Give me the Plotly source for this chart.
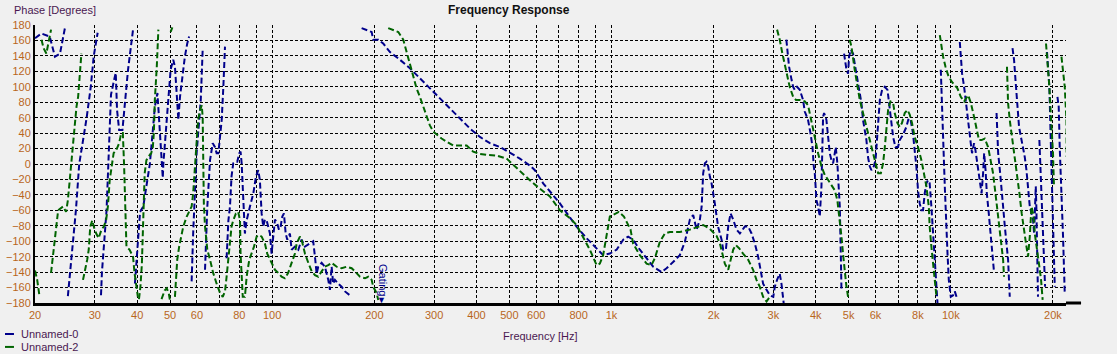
import plotly.graph_objects as go

# ---------------- data (frequency Hz, phase degrees) ----------------
blue_01 = [(20, 163), (20.9, 169), (22.1, 165), (22.9, 139), (23.7, 143), (24.2, 165), (24.5, 176)]
blue_02 = [(25.0, -171), (25.4, -140), (26.4, -60), (27.0, 0), (28.4, 60), (29.2, 100), (29.8, 140), (30.6, 170)]
blue_03 = [(31.3, -170), (31.5, -140), (32.0, -100), (32.5, -60), (32.9, 0), (33.5, 90), (34.3, 111), (34.6, 118),
           (34.9, 70), (35.4, 44), (36.2, 44), (37.6, 122), (38.9, 174)]
blue_04 = [(39.4, -155), (39.9, -120), (40.8, -62), (41.7, -55), (42.7, -25), (43.6, 0), (44.5, 44), (45.1, 74),
           (45.9, 92), (46.2, 70), (46.7, 44), (47.2, 5), (47.6, -18), (47.8, 1), (48.6, 40), (49.4, 79), (50.2, 122),
           (51.1, 135), (51.7, 126), (52.3, 92), (52.9, 57), (53.5, 87), (54.3, 113), (55.3, 139), (56.2, 156), (56.9, 165)]
blue_05 = [(57.9, -152), (58.5, -90), (59.9, 14), (61.0, 66), (61.6, 83), (62.4, 148)]
blue_06 = [(63.4, -137), (64.4, -55), (65.6, 5), (66.8, 27), (67.8, 22), (68.6, 14), (69.4, 14), (70.2, 35),
           (71.0, 57), (71.8, 100), (72.6, 152)]
blue_07 = [(73.4, -122), (74.3, -73), (75.1, -55), (75.9, -16), (76.8, 1), (77.7, 3), (78.9, 3), (80.0, 14),
           (80.7, 16), (81.3, 1), (83.1, -90), (84.1, -73), (86.0, -55), (88.0, -38), (89.6, -16), (91.0, -8),
           (92.0, -21), (93.1, -64), (94.1, -81), (95.2, -72), (96.3, -73), (98.5, -90), (99.6, -116), (100.7, -94),
           (101.9, -72), (103.5, -77), (104.7, -85), (105.9, -81), (107.1, -68), (108.3, -64), (109.6, -90),
           (110.8, -98), (112.8, -90), (114.1, -111), (116.7, -107), (119.4, -111), (122.1, -98), (124.9, -107),
           (129.2, -103), (132.1, -100), (133.7, -120), (135.2, -142), (136.7, -133), (139.9, -128), (143.0, -133),
           (146.3, -150), (148.0, -163), (149.7, -133), (151.3, -155), (153.1, -150), (156.6, -155), (160.2, -159),
           (163.9, -165), (169.5, -170)]
blue_08 = [(183.5, 176), (187.7, 174), (196.4, 171), (198.5, 161), (205.4, 161), (212.5, 156), (222.4, 145),
           (238, 135), (254.7, 124), (272.5, 111), (291.6, 98), (312.1, 85), (334, 72), (357.5, 59), (382.6, 46),
           (409.5, 35), (438.2, 27), (468.9, 22), (501.8, 15), (537, 7), (574.7, -2), (594.6, -8), (629, -25),
           (666, -38), (704.6, -51), (745, -66), (789, -81), (844, -96), (904, -109), (945, -118), (989, -116),
           (1035, -111), (1083, -98), (1120, -94), (1158, -98), (1212, -111), (1269, -122), (1327, -133),
           (1405, -140), (1453, -135), (1519, -127), (1590, -118), (1645, -101), (1702, -72), (1741, -66),
           (1782, -85), (1822, -72), (1844, -55), (1863, -12), (1885, 1), (1906, 3), (1927, -3), (1949, -16),
           (1972, -25), (2016, -51), (2061, -81), (2111, -98), (2134, -111), (2173, -111), (2208, -81), (2243, -64),
           (2284, -72), (2336, -85), (2390, -90), (2472, -81), (2529, -81), (2587, -90), (2646, -103), (2705, -120),
           (2751, -137), (2798, -155), (2864, -163), (2928, -170), (2998, -172), (3029, -159), (3076, -150),
           (3132, -142), (3169, -155), (3217, -180)]
blue_09 = [(3276, 161), (3290, 152), (3337, 126), (3394, 109), (3430, 100), (3468, 96), (3522, 100), (3589, 96),
           (3669, 83), (3712, 68), (3796, 57), (3859, 40), (3912, 22), (3946, -3), (3973, -12), (4019, -47),
           (4063, -55), (4110, -68), (4157, -29), (4203, 61), (4232, 66), (4300, 57), (4347, 35), (4398, 14),
           (4449, 5), (4499, 1), (4550, 14), (4581, 22), (4631, 1), (4650, -16), (4708, -55), (4740, -116), (4762, -163)]
blue_10 = [(4846, 143), (4926, 122), (4980, 117), (5014, 139), (5072, 148), (5152, 143), (5210, 130), (5270, 117),
           (5328, 100), (5452, 79), (5512, 57), (5576, 44), (5640, 31), (5702, 9), (5768, -3), (5835, -8),
           (5931, -3), (6000, 5), (6041, 22), (6107, 53), (6178, 83), (6274, 96), (6390, 100), (6508, 96),
           (6580, 79), (6688, 57), (6762, 35), (6867, 22), (6990, 22), (7071, 31), (7230, 38), (7397, 48),
           (7512, 59), (7614, 57), (7735, 40), (7824, 18), (7915, -3), (8005, -34), (8098, -51), (8192, -60),
           (8283, -60), (8377, -38), (8474, -25), (8567, -21), (8664, -25), (8765, -55), (8861, -94), (8970, -124),
           (9073, -159), (9135, -180)]
blue_11 = [(9344, 122), (9390, 100), (9491, 35), (9600, -29), (9667, -73), (9779, -116), (9865, -150),
           (10000, -172), (10157, -170), (10275, -165), (10394, -172)]
blue_12 = [(10629, 158), (10700, 143), (10797, 117), (10945, 100), (11049, 83), (11200, 66), (11320, 48),
           (11450, 27), (11550, 14), (11710, 27), (11820, 18), (11980, 1), (12170, -21), (12320, -38), (12450, -12),
           (12540, 14), (12660, -8), (12770, -38), (12940, -64), (13090, -90), (13230, -107), (13390, -137)]
blue_13 = [(13640, 66), (13790, 14), (13950, -8), (14110, -29), (14260, -55), (14430, -81), (14750, -124), (14920, -172)]
blue_14 = [(15200, 150), (15360, 135), (15510, 109), (15720, 74), (15890, 48), (16160, 31), (16330, 22), (16520, 9),
           (16710, -8), (16890, -29), (17090, -55), (17290, -64), (17480, -73), (17600, -90), (17800, -29),
           (17870, -55), (17950, -107), (18070, -172)]
blue_15 = [(18240, 31), (18450, -21), (18650, -73), (18870, -142), (18960, -159)]
blue_16 = [(19210, 145), (19520, 100), (19750, 14), (20010, -73), (20250, -159)]
blue_17 = [(20620, 87), (20800, 74), (20940, 22), (21190, -29), (21420, -94), (21670, -168)]

green_01 = [(20.0, -138), (20.3, -150), (20.6, -170)]
green_02 = [(20.9, 161), (21.2, 150), (21.6, 143), (21.9, 158), (22.3, 174)]
green_03 = [(22.3, -141), (22.9, -94), (23.4, -60), (24.2, -55), (24.7, -62), (25.0, -47), (25.3, -21), (25.6, -3),
            (25.9, 22), (26.2, 53), (26.5, 74), (26.8, 87), (27.1, 117), (27.4, 143)]
green_04 = [(27.7, -150), (28.0, -141), (28.5, -124), (28.8, -111), (29.1, -81), (29.5, -73), (29.8, -81),
            (30.3, -90), (30.8, -96), (31.4, -85), (31.9, -81), (32.4, -73), (32.8, -55), (33.2, -21), (33.7, -3),
            (34.1, 14), (34.7, 18), (35.4, 27), (35.9, 40), (36.3, 40), (36.6, 0), (36.8, -50), (37.2, -107),
            (38.0, -111), (38.9, -120), (39.3, -141), (39.8, -159), (40.2, -172)]
green_05 = [(40.5, -175), (40.9, -159), (41.3, -130), (41.6, -81), (42.1, -12), (42.6, 5), (43.1, 9), (44.0, 14),
            (44.5, 22), (44.8, 40), (45.1, 83), (45.7, 126), (46.2, 174)]
green_06 = [(47.2, -175), (48.2, -164), (48.9, -161), (49.6, -168), (50.0, -177)]
green_07 = [(50.2, 171), (50.8, 177)]
green_08 = [(51.7, -172), (52.1, -146), (52.5, -124), (53.2, -107), (54.1, -90), (54.7, -81), (56.0, -68),
            (57.0, -60), (57.9, -55), (58.5, -38), (59.2, -3), (59.9, 22), (60.5, 57), (61.3, 70), (62.0, 76),
            (62.4, 61), (62.7, -8), (62.9, -51), (63.4, -81), (64.4, -111), (65.6, -124), (67.0, -141), (68.6, -155),
            (70.2, -167), (71.5, -172), (72.6, -165), (73.4, -146), (74.2, -124), (75.1, -98), (75.9, -81),
            (76.8, -73), (78.2, -64), (79.4, -62), (80.4, -73), (80.7, -116), (81.3, -150), (81.9, -172),
            (83.1, -172), (84.1, -146), (85.6, -124), (87.0, -116), (88.4, -107), (90.0, -94), (91.6, -92),
            (93.1, -94), (95.2, -103), (96.7, -116), (98.5, -124), (100.7, -133), (101.9, -137), (104.2, -141),
            (106.6, -146), (109.0, -148), (111.5, -141), (114.1, -128), (116.7, -116), (118.1, -103), (119.3, -98),
            (120.7, -94), (122.1, -98), (123.4, -107), (124.9, -116), (127.8, -128), (130.8, -139), (133.7, -144),
            (136.7, -146), (139.9, -139), (143.0, -133), (146.3, -131), (149.7, -128), (154.9, -133), (160.2, -135),
            (165.7, -133), (171.5, -135), (175.3, -139), (181.4, -146), (187.7, -148), (191.9, -146), (196.4, -150),
            (198.5, -159), (203.1, -167), (205.4, -176)]
green_09 = [(219.8, 176), (235.3, 171), (243.4, 161), (249.0, 145), (254.7, 130), (260.3, 115), (266.4, 98),
            (272.5, 87), (278.8, 74), (285.3, 63), (291.6, 50), (298.4, 42), (305.3, 38), (315.7, 33), (326.6, 29),
            (341.6, 24), (357.5, 24), (374.2, 24), (391.2, 16), (409.5, 13), (428.4, 12), (458.5, 11), (490.8, 7),
            (507.6, 1), (525.2, -6), (549.3, -14), (574.7, -21), (615, -32), (658.4, -42), (704.6, -60), (754, -70),
            (789, -79), (825.2, -94), (863.4, -111), (904, -131), (924, -129), (945, -118), (967.2, -94), (989, -68),
            (1051, -62), (1088, -68), (1138, -85), (1158, -103), (1212, -118), (1269, -129), (1312, -131),
            (1342, -122), (1388, -101), (1436, -90), (1486, -88), (1590, -88), (1702, -85), (1782, -82), (1863, -79),
            (1949, -84), (2040, -93), (2087, -103), (2125, -116), (2158, -129), (2208, -137), (2243, -124),
            (2284, -111), (2325, -105), (2377, -109), (2442, -116), (2529, -124), (2614, -137), (2675, -150),
            (2736, -159), (2798, -172), (2864, -178), (2928, -172)]
green_10 = [(3076, 174), (3132, 161), (3189, 143), (3240, 130), (3290, 117), (3351, 100), (3430, 87), (3496, 83),
            (3589, 83), (3712, 81), (3796, 76), (3883, 57), (3973, 35), (4063, 14), (4157, -3), (4251, -14),
            (4347, -21), (4449, -27), (4550, -34), (4631, -47), (4708, -73), (4762, -94), (4812, -116), (4869, -142),
            (4926, -159), (4980, -172)]
green_11 = [(5037, 161), (5095, 152), (5210, 122), (5307, 100), (5392, 83), (5512, 66), (5640, 48), (5768, 31),
            (5902, 14), (6000, 1), (6107, -12), (6220, -12), (6317, 1), (6390, 22), (6464, 53), (6535, 70),
            (6640, 81), (6762, 79), (6834, 66), (6962, 53), (7071, 48), (7179, 53), (7316, 66), (7450, 70),
            (7568, 64), (7686, 53), (7824, 35), (8005, 22), (8192, 5), (8337, -12), (8474, -29), (8612, -55),
            (8664, -81), (8765, -107), (8861, -129), (8970, -150), (9073, -172)]
green_12 = [(9281, 167), (9390, 152), (9491, 139), (9647, 126), (9818, 115), (10048, 107), (10275, 102),
            (10460, 98), (10700, 87), (10945, 81), (11250, 89), (11460, 79), (11710, 61), (11920, 44), (12110, 31),
            (12320, 31), (12590, 33), (12880, 22), (13120, 5), (13320, -12), (13540, -38), (13790, -68),
            (14040, -94), (14260, -124), (14350, -146)]
green_13 = [(14640, 126), (14750, 79), (14920, 57), (15160, 35), (15440, 5), (15720, -16), (15930, -38),
            (16180, -64), (16400, -85), (16710, -107), (16890, -120), (17090, -94), (17290, -55), (17480, -64),
            (17680, -90), (18070, -116), (18240, -133), (18450, -150), (18650, -176)]
green_14 = [(19080, 156), (19300, 130), (19520, 100), (19750, 57), (20010, 14), (20140, -29)]
green_15 = [(21190, 139), (21420, 122), (21670, 100), (21920, 57), (21950, 9)]

blue_segments = [blue_01, blue_02, blue_03, blue_04, blue_05, blue_06, blue_07, blue_08, blue_09,
                 blue_10, blue_11, blue_12, blue_13, blue_14, blue_15, blue_16, blue_17]
green_segments = [green_01, green_02, green_03, green_04, green_05, green_06, green_07, green_08,
                  green_09, green_10, green_11, green_12, green_13, green_14, green_15]

series_names = ["Unnamed-0", "Unnamed-2"]

x_tick_vals = [20, 30, 40, 50, 60, 70, 80, 90, 100, 200, 300, 400, 500, 600, 700, 800, 900,
               1000, 2000, 3000, 4000, 5000, 6000, 7000, 8000, 9000, 10000, 20000]
x_tick_text = ["20", "30", "40", "50", "60", "", "80", "", "100", "200", "300", "400", "500", "600", "",
               "800", "", "1k", "2k", "3k", "4k", "5k", "6k", "", "8k", "", "10k", "20k"]
y_tick_vals = list(range(-180, 181, 20))

BLUE = "#00008b"
GREEN = "#006400"
BG = "#f0f0f0"
TICK_COLOR = "#b8661c"
LABEL_COLOR = "#4a1850"
FONT = "Liberation Sans, Arial, sans-serif"


def join(segments):
    xs, ys = [], []
    for seg in segments:
        for f, p in seg:
            xs.append(f)
            ys.append(p)
        xs.append(None)
        ys.append(None)
    return xs, ys


bx, by = join(blue_segments)
gx, gy = join(green_segments)

fig = go.Figure()
fig.add_trace(go.Scatter(x=bx, y=by, mode="lines", name=series_names[0],
                         line=dict(color=BLUE, width=2, dash="6px,3px"), connectgaps=False))
fig.add_trace(go.Scatter(x=gx, y=gy, mode="lines", name=series_names[1],
                         line=dict(color=GREEN, width=2, dash="6px,3px"), connectgaps=False))

fig.update_layout(
    width=1117, height=354,
    margin=dict(l=35, r=51, t=25, b=51, autoexpand=False),
    paper_bgcolor=BG, plot_bgcolor=BG,
    font=dict(family=FONT, size=11, color=TICK_COLOR),
    showlegend=False,
)
fig.update_xaxes(
    type="log", range=[1.30103, 4.3395], automargin=False,
    tickvals=x_tick_vals, ticktext=x_tick_text, ticks="",
    showgrid=True, gridcolor="black", gridwidth=1, griddash="3px,2px",
    showline=True, linecolor="black", linewidth=3,
    zeroline=False, tickfont=dict(size=11, color=TICK_COLOR),
)
fig.update_yaxes(
    range=[-180, 180], tickvals=y_tick_vals, ticks="", automargin=False,
    showgrid=True, gridcolor="black", gridwidth=1, griddash="3px,2px",
    showline=True, linecolor="black", linewidth=2,
    zeroline=False, tickfont=dict(size=11, color=TICK_COLOR),
)

# x axis line extends slightly beyond the plotting area
fig.add_shape(type="line", xref="paper", yref="paper", x0=1.0, x1=1.0146, y0=0, y1=0,
              line=dict(color="black", width=3))

# legend (drawn compactly like the original)
legend_colors = [BLUE, GREEN]
legend_rows = [-0.1115, -0.158]
for name, col, yy in zip(series_names, legend_colors, legend_rows):
    fig.add_shape(type="line", xref="paper", yref="paper", x0=-0.0291, x1=-0.0204, y0=yy, y1=yy,
                  line=dict(color=col, width=2))
    fig.add_annotation(text=name, xref="paper", yref="paper", x=-0.0155, y=yy, showarrow=False,
                       xanchor="left", yanchor="middle", font=dict(size=11, color=LABEL_COLOR, family=FONT))

fig.add_annotation(text="<b>Frequency Response</b>", xref="paper", yref="paper", x=0.46, y=1.055,
                   showarrow=False, xanchor="center", yanchor="middle",
                   font=dict(size=12, color="#101010", family=FONT))
fig.add_annotation(text="Phase [Degrees]", xref="paper", yref="paper", x=-0.0225, y=1.054,
                   showarrow=False, xanchor="left", yanchor="middle",
                   font=dict(size=11, color=LABEL_COLOR, family=FONT))
fig.add_annotation(text="Frequency [Hz]", xref="paper", yref="paper", x=0.49, y=-0.119,
                   showarrow=False, xanchor="center", yanchor="middle",
                   font=dict(size=11, color=LABEL_COLOR, family=FONT))
fig.add_annotation(text="Gating", x=2.326, y=-150, xref="x", yref="y", showarrow=False,
                   textangle=90, font=dict(size=11, color=BLUE, family=FONT))
fig.add_annotation(text="▼", x=2.322, y=-176, xref="x", yref="y", showarrow=False,
                   font=dict(size=9, color=BLUE, family=FONT))

fig.write_html("out.html")
